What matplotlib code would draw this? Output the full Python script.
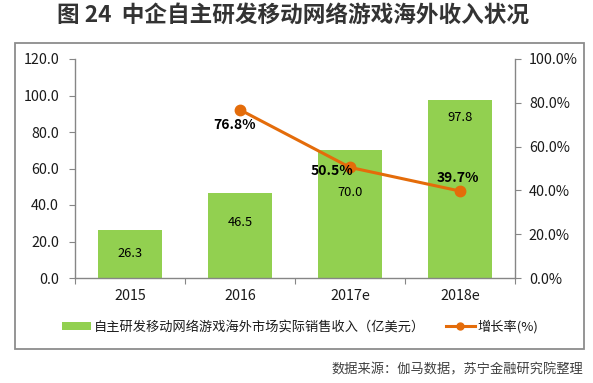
import matplotlib
matplotlib.use("Agg")
import matplotlib.pyplot as plt
from matplotlib.patches import Rectangle, Patch
from matplotlib.lines import Line2D
import numpy as np

plt.rcParams['font.family'] = ['Noto Sans CJK SC', 'DejaVu Sans']

# ---- data ----
years = ['2015', '2016', '2017e', '2018e']
revenue = [26.3, 46.5, 70.0, 97.8]
growth = [np.nan, 76.8, 50.5, 39.7]
rev_label_frac = [0.52, 0.65, 0.67, 0.90]   # where each bar label sits (fraction of bar height)
growth_offsets = [None, (-5, -15), (-18, -4), (-2, 13)]  # label offsets in pixels (dx, dy up)
left_ticks = [0, 20, 40, 60, 80, 100, 120]
right_ticks = [0, 20, 40, 60, 80, 100]
legend_bar = '自主研发移动网络游戏海外市场实际销售收入（亿美元）'
legend_line = '增长率(%)'
title = '图 24  中企自主研发移动网络游戏海外收入状况'
source = '数据来源：伽马数据，苏宁金融研究院整理'

W, H = 593, 383
fig = plt.figure(figsize=(W / 100, H / 100), dpi=100)

green = '#92D050'
orange = '#E46C0A'
gray = '#868686'
txt = '#1a1a1a'

# outer frame
fig.patches.append(Rectangle((15 / W, 1 - 349 / H), 569 / W, 306 / H,
                             transform=fig.transFigure, fill=False,
                             edgecolor='#8C8C8C', linewidth=1.3))

ax = fig.add_axes([75 / W, 1 - 278 / H, 440 / W, 219 / H])
x = np.arange(len(years))
bars = ax.bar(x, revenue, width=0.58, color=green, zorder=2)
ax.set_xlim(-0.5, len(years) - 0.5)
ax.set_ylim(0, 120)
ax.set_yticks(left_ticks)
ax.set_yticklabels([f'{v:.1f}' for v in left_ticks])
ax.set_xticks(np.arange(-0.5, len(years), 1.0))
ax.set_xticklabels([])
ax.set_xticks(x, minor=True)
ax.set_xticklabels(years, minor=True)
ax.tick_params(axis='x', which='major', length=4, color=gray, direction='out')
ax.tick_params(axis='x', which='minor', length=0, pad=8, labelsize=10.3, labelcolor=txt)
ax.tick_params(axis='y', length=4.5, color=gray, direction='out', pad=7,
               labelsize=10.3, labelcolor=txt)
for s in ['top', 'right']:
    ax.spines[s].set_visible(False)
for s in ['left', 'bottom']:
    ax.spines[s].set_color(gray)
    ax.spines[s].set_linewidth(1.0)

for xi, v, f in zip(x, revenue, rev_label_frac):
    ax.text(xi, v * f, f'{v:.1f}', ha='center', va='center', fontsize=9.3, color='#000000')

ax2 = ax.twinx()
ax2.plot(x, growth, color=orange, linewidth=2.2, marker='o', markersize=7.5, zorder=3)
ax2.set_ylim(0, 100)
ax2.set_yticks(right_ticks)
ax2.set_yticklabels([f'{v:.1f}%' for v in right_ticks])
ax2.tick_params(axis='y', length=4, color=gray, direction='out', pad=6,
                labelsize=10.3, labelcolor=txt)
for s in ['top', 'left', 'bottom']:
    ax2.spines[s].set_visible(False)
ax2.spines['right'].set_color(gray)
ax2.spines['right'].set_linewidth(1.0)

for xi, g, off in zip(x, growth, growth_offsets):
    if off is None or np.isnan(g):
        continue
    ax2.annotate(f'{g:.1f}%', (xi, g), xytext=off, textcoords='offset pixels',
                 ha='center', va='center', fontsize=10, fontweight='bold', color='#000000')

handles = [Patch(facecolor=green, edgecolor='none'),
           Line2D([], [], color=orange, linewidth=2.2, marker='o', markersize=5)]
fig.legend(handles, [legend_bar, legend_line], loc='center',
           bbox_to_anchor=(300 / W, 1 - 327 / H), ncol=2, frameon=False,
           fontsize=9.5, handlelength=2.2, handleheight=0.6, handletextpad=0.2,
           columnspacing=1.6, labelcolor=txt)

fig.text(293 / W, 1 - 15 / H, title, ha='center', va='center', fontsize=16.3,
         fontweight='bold', color='#333333')
fig.text(583 / W, 1 - 370 / H, source, ha='right', va='center', fontsize=9.5,
         color='#404040', style='italic')

fig.savefig('out.png', dpi=100)
